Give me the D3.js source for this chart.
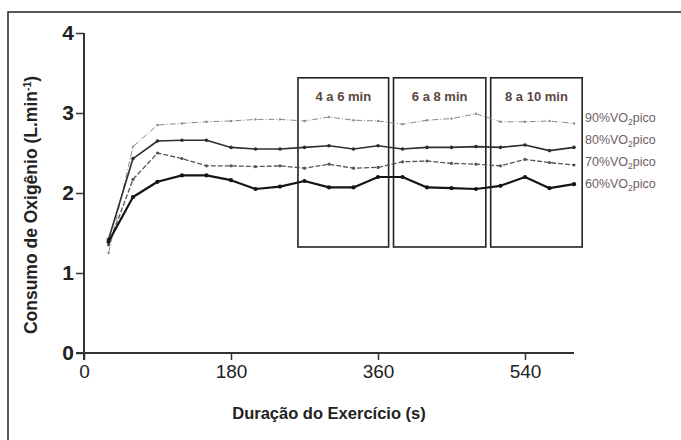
<!DOCTYPE html>
<html>
<head>
<meta charset="utf-8">
<script src="https://d3js.org/d3.v7.min.js"></script>
<style>
  body { margin: 0; background: #fff; }
  svg { font-family: "Liberation Sans", Arial, sans-serif; }
</style>
</head>
<body>
<svg id="chart" width="681" height="440" viewBox="0 0 681 440" xmlns="http://www.w3.org/2000/svg"></svg>
<script>
  // time (s) of each measurement
  var times = [30, 60, 90, 120, 150, 180, 210, 240, 270, 300, 330, 360, 390, 420, 450, 480, 510, 540, 570, 600];
  // VO2 (L/min) per intensity
  var vo2_60 = [1.39, 1.95, 2.14, 2.22, 2.22, 2.16, 2.05, 2.08, 2.15, 2.07, 2.07, 2.20, 2.20, 2.07, 2.06, 2.05, 2.09, 2.20, 2.06, 2.11];
  var vo2_70 = [1.35, 2.17, 2.50, 2.43, 2.34, 2.34, 2.33, 2.34, 2.31, 2.36, 2.31, 2.32, 2.39, 2.40, 2.37, 2.36, 2.34, 2.42, 2.38, 2.35];
  var vo2_80 = [1.42, 2.43, 2.65, 2.66, 2.66, 2.57, 2.55, 2.55, 2.57, 2.59, 2.55, 2.59, 2.55, 2.57, 2.57, 2.58, 2.57, 2.60, 2.53, 2.57];
  var vo2_90 = [1.25, 2.58, 2.85, 2.87, 2.89, 2.90, 2.92, 2.92, 2.90, 2.95, 2.91, 2.90, 2.86, 2.91, 2.93, 2.99, 2.89, 2.89, 2.90, 2.87];
  var seriesNames = ["90%", "80%", "70%", "60%"];

  // analysis windows (s) and their labels
  var boxStart = [262, 379, 498];
  var boxEnd = [373, 492, 610];
  var boxLabels = ["4 a 6 min", "6 a 8 min", "8 a 10 min"];
  var boxLow = 1.325, boxHigh = 3.44;

  var xTicks = [0, 180, 360, 540];
  var yTicks = [0, 1, 2, 3, 4];

  var svg = d3.select("#chart");

  // outer frame (only top and left edges are visible)
  svg.append("path")
    .attr("d", "M8,440V12H681")
    .attr("fill", "none")
    .attr("stroke", "#222")
    .attr("stroke-width", 1.5);

  var x = d3.scaleLinear().domain([0, 600]).range([84, 574]);
  var y = d3.scaleLinear().domain([0, 4]).range([353, 33]);

  // y axis
  var gy = svg.append("g")
    .attr("transform", "translate(" + x(0) + ",0)")
    .call(d3.axisLeft(y).tickValues(yTicks).tickFormat(d3.format("d"))
      .tickSize(8).tickSizeOuter(0).tickPadding(2));
  gy.select(".domain").remove();
  gy.append("line")
    .attr("y1", y(4)).attr("y2", y(0) + 7)
    .attr("stroke", "#333").attr("stroke-width", 2);
  gy.selectAll(".tick line").attr("stroke", "#333").attr("stroke-width", 1.5);
  gy.selectAll(".tick text")
    .attr("fill", "#222")
    .attr("font-size", 21)
    .attr("font-weight", "bold");

  // x axis
  var gx = svg.append("g")
    .attr("transform", "translate(0," + y(0) + ")")
    .call(d3.axisBottom(x).tickValues(xTicks).tickSize(7).tickSizeOuter(0).tickPadding(5));
  gx.select(".domain").attr("stroke", "#333").attr("stroke-width", 2.2)
    .attr("d", "M" + (x(0) - 8) + ",0H" + x(600));
  gx.selectAll(".tick line").attr("stroke", "#333").attr("stroke-width", 1.5);
  gx.selectAll(".tick text")
    .attr("fill", "#222")
    .attr("font-size", 19);

  // axis titles
  var yt = svg.append("text")
    .attr("transform", "translate(37,205) rotate(-90)")
    .attr("text-anchor", "middle")
    .attr("font-size", 17.5)
    .attr("font-weight", "bold")
    .attr("fill", "#222");
  yt.append("tspan").text("Consumo de Oxigênio (L.min");
  yt.append("tspan").text("-1").attr("font-size", 10.5).attr("dy", -6);
  yt.append("tspan").text(")").attr("dy", 6);

  svg.append("text")
    .attr("x", 329).attr("y", 419)
    .attr("text-anchor", "middle")
    .attr("font-size", 16.5)
    .attr("font-weight", "bold")
    .attr("fill", "#222")
    .text("Duração do Exercício (s)");

  // windows
  boxStart.forEach(function(s, i) {
    svg.append("rect")
      .attr("x", x(s)).attr("y", y(boxHigh))
      .attr("width", x(boxEnd[i]) - x(s))
      .attr("height", y(boxLow) - y(boxHigh))
      .attr("fill", "none")
      .attr("stroke", "#222")
      .attr("stroke-width", 1.6);
    svg.append("text")
      .attr("x", (x(s) + x(boxEnd[i])) / 2)
      .attr("y", y(boxHigh) + 23)
      .attr("text-anchor", "middle")
      .attr("font-size", 13)
      .attr("font-weight", "bold")
      .attr("fill", "#5a4740")
      .text(boxLabels[i]);
  });

  // series
  var series = [
    { name: seriesNames[0], values: vo2_90, color: "#8a8a8a", width: 1, dash: "6,2,1,2", r: 1.2 },
    { name: seriesNames[1], values: vo2_80, color: "#2e2e2e", width: 1.6, dash: null, r: 1.8 },
    { name: seriesNames[2], values: vo2_70, color: "#555", width: 1.3, dash: "5,2", r: 1.6 },
    { name: seriesNames[3], values: vo2_60, color: "#151515", width: 2.2, dash: null, r: 2.1 }
  ];

  var line = d3.line()
    .x(function(d, i) { return x(times[i]); })
    .y(function(d) { return y(d); });

  series.forEach(function(s) {
    svg.append("path")
      .datum(s.values)
      .attr("d", line)
      .attr("fill", "none")
      .attr("stroke", s.color)
      .attr("stroke-width", s.width)
      .attr("stroke-dasharray", s.dash)
      .attr("stroke-linejoin", "round");
    svg.append("g").selectAll("circle")
      .data(s.values)
      .enter().append("circle")
      .attr("cx", function(d, i) { return x(times[i]); })
      .attr("cy", function(d) { return y(d); })
      .attr("r", s.r)
      .attr("fill", s.color);
  });

  // legend labels
  series.forEach(function(s, i) {
    var t = svg.append("text")
      .attr("x", 585)
      .attr("y", 122 + i * 22)
      .attr("font-size", 12.5)
      .attr("fill", "#6e6060");
    t.append("tspan").text(s.name + "VO");
    t.append("tspan").text("2").attr("font-size", 8.5).attr("dy", 3);
    t.append("tspan").text("pico").attr("dy", -3);
  });
</script>
</body>
</html>
